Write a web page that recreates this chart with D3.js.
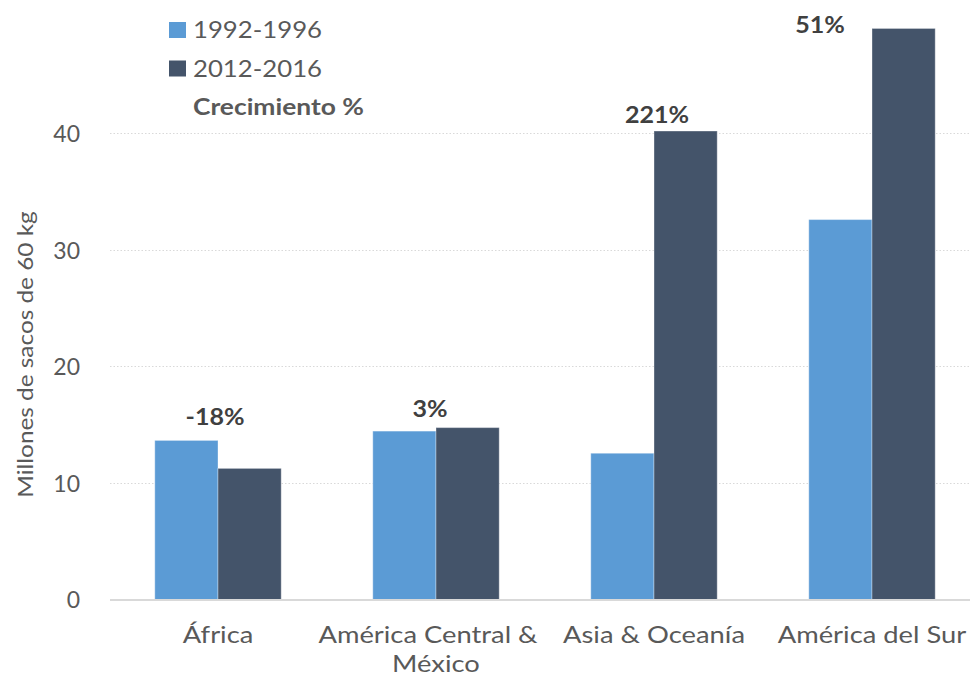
<!DOCTYPE html>
<html>
<head>
<meta charset="utf-8">
<script src="https://cdn.jsdelivr.net/npm/d3@7"></script>
<style>
  html, body { margin: 0; padding: 0; background: #fff; }
  svg { display: block; }
  text { font-family: Lato, "Open Sans", sans-serif; }
</style>
</head>
<body>
<svg id="chart" width="970" height="678"></svg>
<script>
// ---- data ----
const categories = ["África", "América Central & México", "Asia & Oceanía", "América del Sur"];
const categoryLines = [["África"], ["América Central &", "México"], ["Asia & Oceanía"], ["América del Sur"]];
const seriesNames = ["1992-1996", "2012-2016"];
const values1992 = [13.65, 14.45, 12.55, 32.6];
const values2012 = [11.25, 14.75, 40.2, 49.0];
const growthLabels = ["-18%", "3%", "221%", "51%"];
const yTicks = [0, 10, 20, 30, 40];
const yTitle = "Millones de sacos de 60 kg";
const growthTitle = "Crecimiento %";

const colors = ["#5B9BD5", "#44546A"];

const svg = d3.select("#chart");
const m = { left: 109, right: 981, top: 16.8, bottom: 599.5 };

const x = d3.scaleBand().domain(categories).range([m.left, m.right])
  .paddingInner(0.42).paddingOuter(0.21);
const xs = d3.scaleBand().domain(seriesNames).range([0, x.bandwidth()]);
const y = d3.scaleLinear().domain([0, 50]).range([m.bottom, m.top]);

// helper: horizontally stretched text (to mimic the wide rendering of the original)
function stext(parent, tx, ty, str, opts) {
  const o = Object.assign({ size: 23, sx: 1.15, anchor: "start", weight: "normal", fill: "#595959", rotate: 0 }, opts || {});
  return parent.append("text")
    .attr("transform", `translate(${tx},${ty}) rotate(${o.rotate}) scale(${o.sx},1)`)
    .attr("text-anchor", o.anchor)
    .attr("font-size", o.size).attr("font-weight", o.weight).attr("fill", o.fill)
    .text(str);
}

// gridlines
const grid = svg.append("g");
grid.selectAll("line").data(yTicks.filter(d => d > 0)).enter().append("line")
  .attr("x1", 110).attr("x2", 970)
  .attr("y1", d => Math.round(y(d)) + 0.5).attr("y2", d => Math.round(y(d)) + 0.5)
  .attr("stroke", "#d9d9d9").attr("stroke-width", 1).attr("stroke-dasharray", "1.5,2");

// y axis
const yAxis = d3.axisLeft(y).tickValues(yTicks).tickSize(0).tickPadding(0);
const ga = svg.append("g").attr("transform", "translate(80,0)").call(yAxis);
ga.select(".domain").remove();
ga.selectAll("text").attr("font-size", 23).attr("fill", "#595959")
  .attr("font-family", "Lato, sans-serif").attr("dy", "0.36em");

// y title
stext(svg, 33, (212 + 497) / 2, yTitle, { size: 21, sx: 1.16, anchor: "middle", rotate: -90 });

// bars
const groups = svg.append("g").selectAll("g").data(categories).enter().append("g")
  .attr("transform", d => `translate(${x(d)},0)`);
const seriesVals = [values1992, values2012];
groups.selectAll("rect").data((d, i) => seriesNames.map((s, j) => ({ s, j, v: seriesVals[j][i] })))
  .enter().append("rect")
  .attr("x", d => xs(d.s)).attr("width", xs.bandwidth())
  .attr("y", d => y(d.v)).attr("height", d => y(0) - y(d.v))
  .attr("fill", d => colors[d.j])
  .attr("stroke", "rgba(255,255,255,0.35)").attr("stroke-width", 1);

// baseline
svg.append("line").attr("x1", 110).attr("x2", 970)
  .attr("y1", y(0) + 0.5).attr("y2", y(0) + 0.5)
  .attr("stroke", "#d9d9d9").attr("stroke-width", 2);

// category labels
const xl = svg.append("g");
categories.forEach((c, i) => {
  const lines = categoryLines[i];
  lines.forEach((ln, k) => {
    const cx = x(c) + x.bandwidth() / 2 - (lines.length > 1 && k === 0 ? 8 : 0);
    stext(xl, cx, 643 + k * 29, ln, { size: 23, sx: 1.19, anchor: "middle" });
  });
});

// growth labels
const labelDx = [-3, -6, 3, -52];
const labelDy = [-15, -11, -8, 5];
growthLabels.forEach((g, i) => {
  const c = categories[i];
  const top = Math.max(values1992[i], values2012[i]);
  stext(svg, x(c) + x.bandwidth() / 2 + labelDx[i], y(top) + labelDy[i], g,
    { size: 23, sx: 1.09, anchor: "middle", weight: "bold", fill: "#404040" });
});

// legend
const lg = svg.append("g");
seriesNames.forEach((s, i) => {
  lg.append("rect").attr("x", 169).attr("y", 22 + i * 38.5).attr("width", 17).attr("height", 16)
    .attr("fill", colors[i]);
  stext(lg, 193, 38 + i * 38.5, s, { size: 23, sx: 1.12 });
});
stext(lg, 193, 115, growthTitle, { size: 22, sx: 1.2, weight: "bold" });
</script>
</body>
</html>
